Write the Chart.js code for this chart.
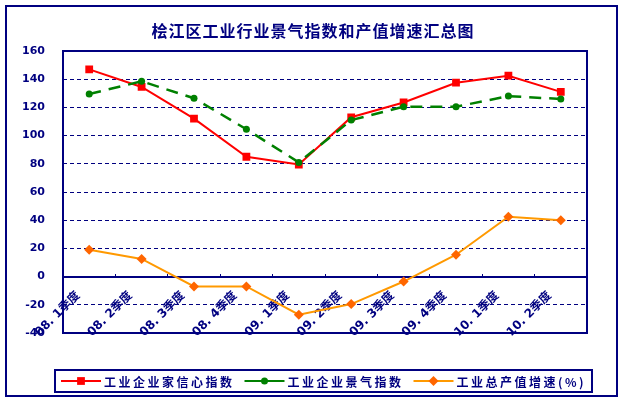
<!DOCTYPE html>
<html>
<head>
<meta charset="utf-8">
<script src="https://cdn.jsdelivr.net/npm/chart.js@4.4.1/dist/chart.umd.min.js"></script>
<style>
  html, body { margin: 0; padding: 0; background: #fff; }
  #wrap { width: 624px; height: 404px; }
</style>
</head>
<body>
<div id="wrap"><canvas id="chart" width="624" height="404"></canvas></div>
<script>
// quarters on the category axis
const quarters = ['08. 1季度', '08. 2季度', '08. 3季度', '08. 4季度', '09. 1季度',
                  '09. 2季度', '09. 3季度', '09. 4季度', '10. 1季度', '10. 2季度'];

// series
const confidenceIndex = [147, 134.5, 112, 85, 79.5, 113, 123.5, 137.5, 142.5, 131];
const prosperityIndex = [129.5, 138.5, 126.5, 104.5, 81, 111, 120.5, 120.5, 128, 126];
const outputGrowth = [19, 12.5, -7, -7, -27, -19.5, -3.5, 15.5, 42.5, 40];

const yMin = -40;
const yMax = 160;
const yStep = 20;

const chartTitle = '桧江区工业行业景气指数和产值增速汇总图';

const NAVY = '#000080';
const CJK = '"Noto Sans CJK SC", "Noto Sans", sans-serif';
const MIXED = '"DejaVu Sans", "Noto Sans CJK SC", sans-serif';

// outer frame, title and plot area border
const framePlugin = {
  id: 'frame',
  beforeDraw(chart) {
    const { ctx, width, height } = chart;
    ctx.save();
    ctx.fillStyle = '#fff';
    ctx.fillRect(0, 0, width, height);
    ctx.strokeStyle = NAVY;
    ctx.lineWidth = 2;
    ctx.strokeRect(6, 6, 611, 390);

    ctx.fillStyle = NAVY;
    ctx.font = 'bold 16px ' + CJK;
    ctx.letterSpacing = '1px';
    ctx.textAlign = 'center';
    ctx.textBaseline = 'middle';
    ctx.fillText(chartTitle, width / 2 + 1, 31);
    ctx.restore();
  },
  beforeDatasetsDraw(chart) {
    const { ctx, chartArea: a } = chart;
    ctx.save();
    ctx.strokeStyle = NAVY;
    ctx.lineWidth = 2;
    ctx.strokeRect(a.left, a.top, a.right - a.left, a.bottom - a.top);
    ctx.restore();
  }
};

function drawMarker(ctx, style, x, y, r) {
  ctx.beginPath();
  if (style === 'rect') {
    const s = r * Math.SQRT1_2;
    ctx.rect(x - s, y - s, 2 * s, 2 * s);
  } else if (style === 'rectRot') {
    ctx.moveTo(x, y - r);
    ctx.lineTo(x + r, y);
    ctx.lineTo(x, y + r);
    ctx.lineTo(x - r, y);
    ctx.closePath();
  } else {
    ctx.arc(x, y, r, 0, Math.PI * 2);
  }
  ctx.fill();
}

// legend drawn as line + marker, boxed at the bottom
const lineLegend = {
  id: 'lineLegend',
  afterDraw(chart) {
    const { ctx } = chart;
    const box = { left: 55, top: 370, right: 592, bottom: 392 };
    const cy = (box.top + box.bottom) / 2;
    ctx.save();
    ctx.strokeStyle = NAVY;
    ctx.lineWidth = 2;
    ctx.strokeRect(box.left, box.top, box.right - box.left, box.bottom - box.top);

    let x = 61;
    ctx.font = 'bold 12px ' + CJK;
    ctx.letterSpacing = '2.5px';
    ctx.textBaseline = 'middle';
    chart.data.datasets.forEach((ds) => {
      ctx.strokeStyle = ds.borderColor;
      ctx.lineWidth = 2;
      ctx.setLineDash([]);
      ctx.beginPath();
      ctx.moveTo(x, cy);
      ctx.lineTo(x + 40, cy);
      ctx.stroke();
      ctx.fillStyle = ds.pointBackgroundColor;
      drawMarker(ctx, ds.pointStyle, x + 20, cy, ds.pointRadius);
      ctx.fillStyle = NAVY;
      ctx.fillText(ds.label, x + 43, cy + 1);
      x += 43 + ctx.measureText(ds.label).width + 10;
    });
    ctx.restore();
  }
};

new Chart(document.getElementById('chart'), {
  type: 'line',
  data: {
    labels: quarters,
    datasets: [
      {
        label: '工业企业家信心指数',
        data: confidenceIndex,
        borderColor: '#FF0000',
        backgroundColor: '#FF0000',
        pointBackgroundColor: '#FF0000',
        pointBorderColor: '#FF0000',
        borderWidth: 2,
        pointStyle: 'rect',
        pointRadius: 5.5,
        pointBorderWidth: 0,
        tension: 0,
        order: 1
      },
      {
        label: '工业企业景气指数',
        data: prosperityIndex,
        borderColor: '#008000',
        backgroundColor: '#008000',
        pointBackgroundColor: '#008000',
        pointBorderColor: '#008000',
        borderWidth: 2.5,
        borderDash: [12, 8],
        pointStyle: 'circle',
        pointRadius: 3.5,
        pointBorderWidth: 0,
        tension: 0,
        order: 0
      },
      {
        label: '工业总产值增速(%)',
        data: outputGrowth,
        borderColor: '#FF9900',
        backgroundColor: '#FF6600',
        pointBackgroundColor: '#FF6600',
        pointBorderColor: '#FF6600',
        borderWidth: 2,
        pointStyle: 'rectRot',
        pointRadius: 5,
        pointBorderWidth: 0,
        tension: 0,
        order: 2
      }
    ]
  },
  options: {
    responsive: false,
    devicePixelRatio: 1,
    animation: false,
    layout: { padding: { top: 51, left: 0, right: 37, bottom: 71 } },
    plugins: {
      legend: { display: false },
      tooltip: { enabled: false },
      title: { display: false }
    },
    scales: {
      x: {
        position: { y: 0 },
        offset: true,
        grid: {
          display: true,
          drawOnChartArea: false,
          drawTicks: true,
          tickLength: -4,
          color: NAVY,
          lineWidth: 1,
          offset: true
        },
        border: { display: true, color: NAVY, width: 2 },
        ticks: {
          color: NAVY,
          font: { family: MIXED, size: 12, weight: 'bold' },
          minRotation: 45,
          maxRotation: 45,
          autoSkip: false,
          padding: 16,
          labelOffset: -11
        }
      },
      y: {
        min: yMin,
        max: yMax,
        afterFit(scale) { scale.width = 63; },
        ticks: {
          stepSize: yStep,
          color: NAVY,
          font: { family: 'DejaVu Sans', size: 11, weight: 'bold' },
          padding: 18
        },
        grid: {
          drawTicks: false,
          lineWidth: 1,
          color: (c) => (c.tick && c.tick.value === 0 ? 'rgba(0,0,0,0)' : NAVY)
        },
        border: { display: false, dash: [4, 3] }
      }
    }
  },
  plugins: [framePlugin, lineLegend]
});
</script>
</body>
</html>
